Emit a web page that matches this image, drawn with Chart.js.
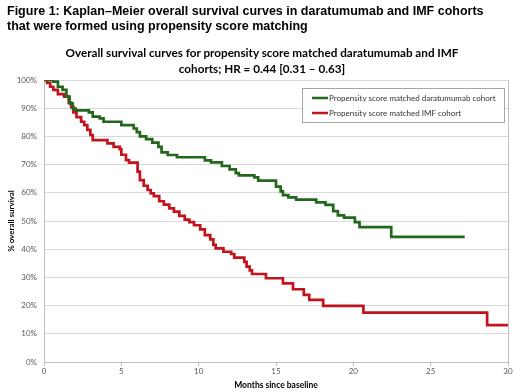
<!DOCTYPE html>
<html>
<head>
<meta charset="utf-8">
<script src="https://cdn.jsdelivr.net/npm/chart.js@4.4.1/dist/chart.umd.min.js"></script>
<style>
  body { margin: 0; background: #fff; }
  #wrap { position: relative; width: 520px; height: 392px; }
  #caption {
    position: absolute; left: 7px; top: 4px;
    font: bold 12.5px "Liberation Sans", Arial, sans-serif;
    line-height: 15px; color: #000;
  }
  #title {
    position: absolute; left: 0; top: 45px; width: 524px;
    text-align: center;
    font: bold 11.7px Lato, sans-serif;
    line-height: 15.5px; color: #000;
  }
  canvas { position: absolute; left: 0; top: 0; }
</style>
</head>
<body>
<div id="wrap">
  <canvas id="km" width="520" height="392"></canvas>
  <div id="caption">Figure 1: Kaplan–Meier overall survival curves in daratumumab and IMF cohorts<br>that were formed using propensity score matching</div>
  <div id="title">Overall survival curves for propensity score matched daratumumab and IMF<br>cohorts; HR = 0.44 [0.31 – 0.63]</div>
</div>
<script>
// survival in % after each step
var daraMonths   = [0, 0.6, 0.9, 1.2, 1.45, 1.65, 1.85, 2.05, 2.9, 3.15, 3.6, 3.85, 5.0, 5.8, 6.0, 6.2, 6.6, 7.0, 7.4, 7.6, 8.0, 8.6, 10.4, 10.8, 11.5, 12.0, 12.4, 12.6, 13.6, 13.85, 15.0, 15.3, 15.45, 15.8, 16.3, 17.6, 18.2, 18.7, 19.0, 19.4, 20.1, 20.4, 22.45, 27.2];
var daraSurvival = [100, 99.4, 97.6, 96.5, 94.1, 91.7, 89.9, 89.2, 88.5, 87.0, 86.4, 85.2, 84.0, 82.8, 81.5, 80.0, 79.0, 77.8, 76.3, 74.3, 73.4, 72.6, 71.5, 70.8, 69.5, 68.3, 67.0, 66.2, 65.5, 64.3, 62.2, 60.5, 59.2, 58.4, 57.6, 56.6, 55.7, 53.5, 52.0, 51.2, 49.6, 47.8, 44.4, 44.4];

var imfMonths   = [0, 0.2, 0.4, 0.6, 0.9, 1.3, 1.6, 1.75, 1.9, 2.1, 2.4, 2.6, 2.8, 3.0, 3.15, 4.1, 4.5, 4.9, 5.0, 5.3, 5.5, 6.05, 6.2, 6.45, 6.7, 6.9, 7.1, 7.45, 7.75, 8.1, 8.4, 8.75, 9.1, 9.4, 9.7, 10.1, 10.4, 10.75, 10.95, 11.1, 11.6, 12.1, 12.3, 12.95, 13.1, 13.3, 13.45, 14.35, 15.45, 16.1, 16.8, 17.15, 18.05, 20.65, 28.65, 30];
var imfSurvival = [100, 99.0, 97.6, 96.5, 95.0, 94.1, 92.0, 90.5, 88.5, 86.8, 85.2, 84.0, 82.3, 80.5, 78.7, 77.5, 76.3, 75.5, 73.5, 71.6, 70.7, 67.5, 64.5, 62.5, 61.0, 59.8, 58.8, 57.0, 55.8, 54.5, 53.3, 51.8, 50.5, 49.6, 48.5, 47.0, 45.0, 43.5, 41.5, 40.3, 39.1, 38.3, 37.0, 35.5, 33.8, 32.5, 31.2, 29.7, 27.9, 25.8, 23.8, 22.0, 19.9, 17.5, 13.1, 13.1];

var seriesNames = ["Propensity score matched daratumumab cohort", "Propensity score matched IMF cohort"];
var xTicks = [0, 5, 10, 15, 20, 25, 30];
var yTicks = [0, 10, 20, 30, 40, 50, 60, 70, 80, 90, 100];

function toPoints(xs, ys) {
  return xs.map(function (x, i) { return { x: x, y: ys[i] }; });
}

var tickFont = { family: "Lato", size: 8 };

// excel style legend box in the top right of the plot
var legendBox = {
  id: "legendBox",
  afterDraw: function (chart) {
    var ctx = chart.ctx;
    var x0 = 302, y0 = 88, w = 202, h = 34;
    ctx.save();
    ctx.fillStyle = "#fff";
    ctx.fillRect(x0, y0, w, h);
    ctx.strokeStyle = "#a6a6a6";
    ctx.lineWidth = 1;
    ctx.strokeRect(x0 + 0.5, y0 + 0.5, w, h);
    ctx.font = "8px Lato";
    ctx.textBaseline = "middle";
    chart.data.datasets.forEach(function (ds, i) {
      var y = y0 + 10 + i * 15;
      ctx.strokeStyle = ds.borderColor;
      ctx.lineWidth = 2.5;
      ctx.beginPath();
      ctx.moveTo(x0 + 10, y);
      ctx.lineTo(x0 + 26, y);
      ctx.stroke();
      ctx.fillStyle = "#333";
      ctx.fillText(ds.label, x0 + 27, y);
    });
    ctx.restore();
  }
};

new Chart("km", {
  type: "line",
  data: {
    datasets: [{
      label: seriesNames[0],
      data: toPoints(daraMonths, daraSurvival),
      borderColor: "#23671c",
      borderWidth: 2.7,
      pointRadius: 0,
      stepped: "before",
      fill: false
    }, {
      label: seriesNames[1],
      data: toPoints(imfMonths, imfSurvival),
      borderColor: "#c2141d",
      borderWidth: 2.7,
      pointRadius: 0,
      stepped: "before",
      fill: false
    }]
  },
  options: {
    responsive: false,
    animation: false,
    devicePixelRatio: 1,
    layout: { padding: { left: 0, right: 12, top: 80, bottom: 0 } },
    plugins: {
      legend: { display: false },
      tooltip: { enabled: false },
      title: { display: false }
    },
    scales: {
      x: {
        type: "linear",
        min: 0,
        max: 30,
        afterBuildTicks: function (s) { s.ticks = xTicks.map(function (v) { return { value: v }; }); },
        afterFit: function (s) { s.height = 30; },
        ticks: { font: tickFont, color: "#595959", padding: 1, maxRotation: 0 },
        grid: {
          drawOnChartArea: true,
          color: function (c) { return c.tick && c.tick.value === 30 ? "#bfbfbf" : "rgba(0,0,0,0)"; },
          tickColor: "#bfbfbf",
          tickLength: 4
        },
        border: { color: "#bfbfbf" },
        title: {
          display: true,
          text: "Months since baseline",
          font: { family: "Lato", size: 8.5, weight: "bold" },
          color: "#000",
          padding: { top: 0, bottom: 2 }
        }
      },
      y: {
        min: 0,
        max: 100,
        afterBuildTicks: function (s) { s.ticks = yTicks.map(function (v) { return { value: v }; }); },
        afterFit: function (s) { s.width = 44; },
        ticks: {
          font: tickFont,
          color: "#595959",
          padding: 7,
          callback: function (v) { return v + "%"; }
        },
        grid: { color: "#d9d9d9", drawTicks: false },
        border: { color: "#bfbfbf" },
        title: {
          display: true,
          text: "% overall survival",
          font: { family: "Lato", size: 8, weight: "bold" },
          color: "#000",
          padding: { top: 7, bottom: 0 }
        }
      }
    }
  },
  plugins: [legendBox]
});
</script>
</body>
</html>
